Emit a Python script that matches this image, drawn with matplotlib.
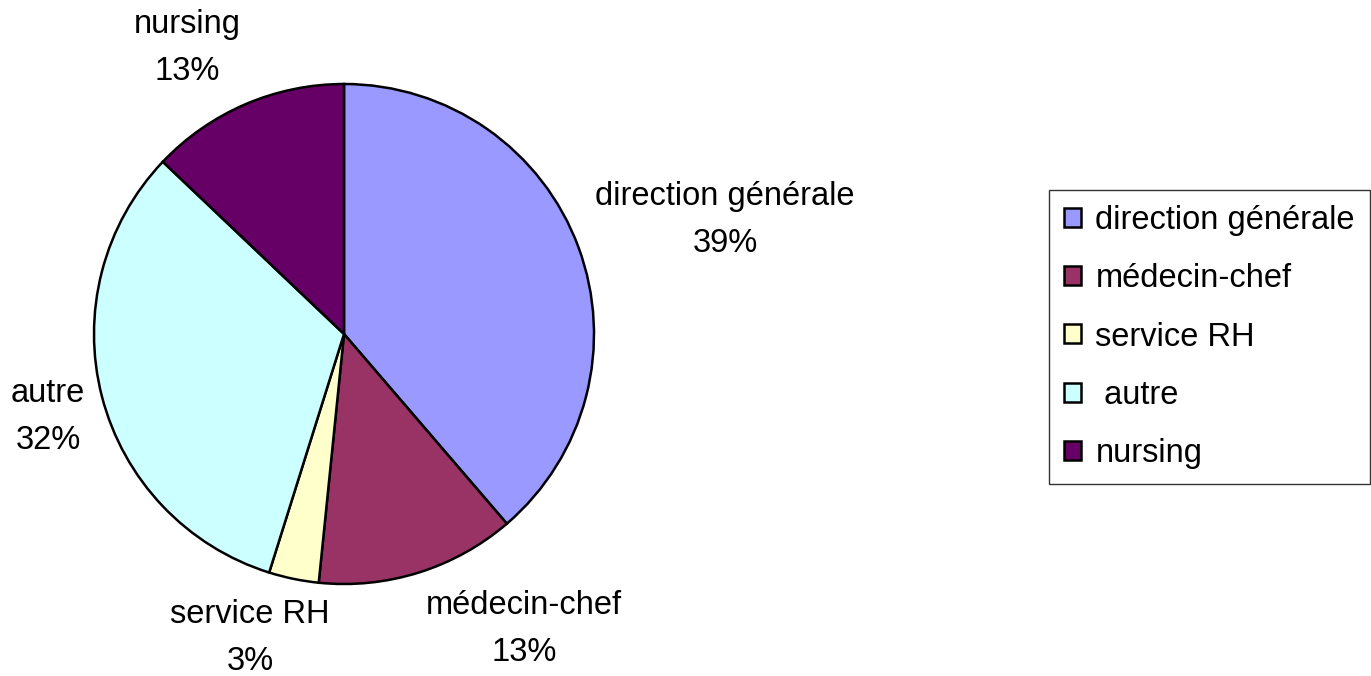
import matplotlib
matplotlib.use("Agg")
import matplotlib.pyplot as plt

categories = ["direction générale", "médecin-chef", "service RH", " autre", "nursing"]
label_names = ["direction générale", "médecin-chef", "service RH", "autre", "nursing"]
counts = [12, 4, 1, 10, 4]
colors = ["#9999FF", "#993366", "#FFFFCC", "#CCFFFF", "#660066"]

plt.rcParams['font.family'] = ['Liberation Sans', 'DejaVu Sans']

W, H = 1371, 676
fig = plt.figure(figsize=(W / 100, H / 100), dpi=100)
cx, cy, r = 344, 334, 250
ax = fig.add_axes([(cx - r) / W, (H - cy - r) / H, 2 * r / W, 2 * r / H])

wedges, _ = ax.pie(counts, colors=colors, startangle=90, counterclock=False,
                   radius=1.0, wedgeprops=dict(edgecolor="black", linewidth=1.8))
ax.set_xlim(-1, 1)
ax.set_ylim(-1, 1)
ax.set_aspect('equal')
ax.axis('off')

total = sum(counts)
label_pos = [(725, 220), (524, 629), (250, 638), (48, 417), (187, 48)]
for name, c, (px, py) in zip(label_names, counts, label_pos):
    pct = round(100 * c / total)
    fig.text(px / W, 1 - py / H, f"{name}\n{pct}%", ha="center", va="center",
             fontsize=23.5, linespacing=1.68)

leg = fig.legend(wedges, categories, loc="upper left",
                 bbox_to_anchor=(1049 / W, 1 - 190 / H), bbox_transform=fig.transFigure,
                 fontsize=23.5, frameon=True, fancybox=False, edgecolor="black",
                 handlelength=0.52, handleheight=0.52, handletextpad=0.45,
                 labelspacing=0.84, borderpad=0.45, borderaxespad=0)
leg.get_frame().set_linewidth(1.0)

fig.savefig("out.png", dpi=100)
